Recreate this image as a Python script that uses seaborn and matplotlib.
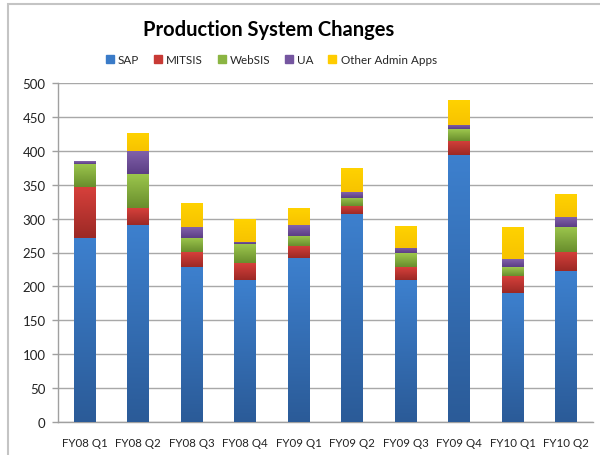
import numpy as np
import pandas as pd
import seaborn as sns
import matplotlib.pyplot as plt
from matplotlib.patches import Rectangle
from matplotlib.colors import LinearSegmentedColormap

quarters = ['FY08 Q1', 'FY08 Q2', 'FY08 Q3', 'FY08 Q4', 'FY09 Q1',
            'FY09 Q2', 'FY09 Q3', 'FY09 Q4', 'FY10 Q1', 'FY10 Q2']
sap = [271, 290, 229, 210, 242, 307, 210, 394, 191, 222]
mitsis = [75, 25, 22, 25, 18, 12, 19, 21, 25, 29]
websis = [35, 51, 21, 27, 15, 12, 20, 17, 13, 37]
ua = [4, 34, 15, 3, 16, 8, 8, 6, 11, 14]
other = [0, 26, 34, 33, 25, 34, 32, 36, 46, 33]

series = ['SAP', 'MITSIS', 'WebSIS', 'UA', 'Other Admin Apps']
values = [sap, mitsis, websis, ua, other]
# (top colour, bottom colour) for the excel style gradient
shades = [('#3D80CE', '#2B5B98'), ('#D6403B', '#9C2925'), ('#9DC74D', '#698E2D'),
          ('#8262AB', '#5C3E85'), ('#FFD200', '#F7C300')]
legend_cols = ['#3A7BC8', '#C83A35', '#8BB543', '#7556A0', '#FFCC00']

sns.set_style('white')
plt.rcParams['font.family'] = ['Lato', 'DejaVu Sans']

fig = plt.figure(figsize=(6, 4.56), dpi=100)
ax = fig.add_axes([58/600, 33/456, 535/600, 339/456])

bottom = np.zeros(len(quarters))
for name, vals, sh in zip(series, values, shades):
    df = pd.DataFrame({'quarter': quarters, 'value': vals})
    n0 = len(ax.patches)
    sns.barplot(data=df, x='quarter', y='value', color=sh[0], width=0.41,
                bottom=bottom, ax=ax, zorder=3, linewidth=0, saturation=1)
    cmap = LinearSegmentedColormap.from_list(name, [sh[1], sh[0]])
    grad = np.linspace(0, 1, 64).reshape(-1, 1)
    for p in ax.patches[n0:]:
        if p.get_height() <= 0:
            continue
        x0, y0 = p.get_x(), p.get_y()
        ax.imshow(grad, extent=[x0, x0 + p.get_width(), y0, y0 + p.get_height()],
                  origin='lower', cmap=cmap, aspect='auto', zorder=3.5,
                  interpolation='bilinear')
    bottom = bottom + np.array(vals)

ax.set_xlim(-0.5, len(quarters) - 0.5)
ax.set_ylim(0, 500)
ax.set_yticks(range(0, 501, 50))
ax.set_xlabel('')
ax.set_ylabel('')
ax.grid(axis='y', color='#A8A8A8', lw=1, zorder=0)
ax.set_axisbelow(True)
for s in ['top', 'right']:
    ax.spines[s].set_visible(False)
for s in ['left', 'bottom']:
    ax.spines[s].set_color('#A0A0A0')
    ax.spines[s].set_linewidth(1)
ax.set_xticks(np.arange(-0.5, len(quarters)), minor=True)
ax.tick_params(axis='x', which='major', length=0, pad=11, labelsize=8.3, labelcolor='#222222')
ax.tick_params(axis='x', which='minor', length=4, color='#A0A0A0', width=1)
ax.tick_params(axis='y', length=4, color='#A0A0A0', width=1, labelsize=9.5,
               labelcolor='#222222', pad=5, left=True)

fig.text(0.448, 0.935, 'Production System Changes', ha='center', va='center',
         fontsize=14.5, fontweight='bold', color='black')
handles = [Rectangle((0, 0), 1, 1, color=c) for c in legend_cols]
fig.legend(handles, series, loc='center', bbox_to_anchor=(0.452, 0.868), ncol=5,
           frameon=False, fontsize=8.4, handlelength=0.7, handleheight=0.7,
           handletextpad=0.35, columnspacing=1.25)

fig.patches.append(Rectangle((8/600, -0.1), 1, 0.1 + 451/456, transform=fig.transFigure,
                             fill=False, ec='#C4C4C4', lw=1.5))

fig.savefig('out.png', dpi=100)
